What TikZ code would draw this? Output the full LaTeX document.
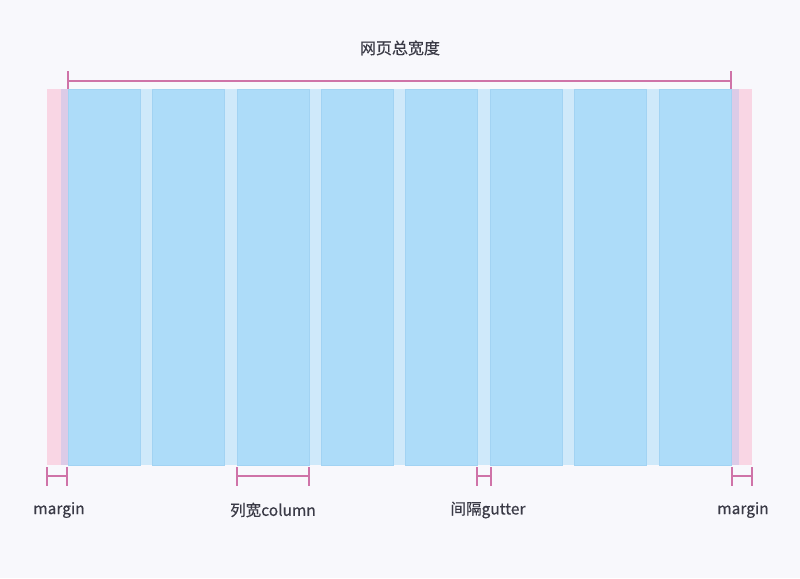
\documentclass[tikz,border=0pt]{standalone}
\usepackage{fontspec}
\setmainfont{Noto Sans CJK SC}
\newfontfamily\mfont[FakeBold=0.5]{Noto Sans CJK SC}
\definecolor{bgc}{HTML}{F8F8FC}
\definecolor{pinkm}{HTML}{F9D6E4}
\definecolor{overl}{HTML}{DCCBE7}
\definecolor{colb}{HTML}{ADDCF9}
\definecolor{colbd}{HTML}{A2D3F3}
\definecolor{gutb}{HTML}{CFE9FA}
\definecolor{dimc}{HTML}{CF73A8}
\definecolor{txtc}{HTML}{3A3A46}
\tikzset{
  colbox/.style={fill=colb, draw=colbd, line width=0.5pt},
  dimline/.style={draw=dimc, line width=1.3pt},
  lbl/.style={text=txtc, font=\mfont\fontsize{15.5}{18}\selectfont, inner sep=0pt, anchor=center},
}
\begin{document}
\begin{tikzpicture}[x=1pt,y=-1pt]
\useasboundingbox (0,0) rectangle (800,578);
\fill[bgc] (0,0) rectangle (800,578);
% margins
\fill[pinkm] (47,89) rectangle (61,465);
\fill[overl] (61,89) rectangle (68,465);
\fill[overl] (731,89) rectangle (739,465);
\fill[pinkm] (739,89) rectangle (752,465);
% gutter background
\fill[gutb] (68,89) rectangle (731,465);
% columns
\foreach \i in {0,...,7} {
  \pgfmathsetmacro{\xa}{68+\i*84.43}
  \pgfmathsetmacro{\xb}{\xa+72}
  \draw[colbox] (\xa,89) rectangle (\xb,465);
}
% title
\node[lbl, font=\mfont\fontsize{16}{18}\selectfont] (title) at (400,48) {网页总宽度};
% top dimension
\coordinate (tl) at (68,81);
\coordinate (tr) at (731,81);
\coordinate (tla) at (68,71);
\coordinate (tlb) at (68,89);
\coordinate (tra) at (731,71);
\coordinate (trb) at (731,89);
\draw[dimline] (tl) -- (tr);
\draw[dimline] (tla) -- (tlb);
\draw[dimline] (tra) -- (trb);
% bottom markers
\foreach \n/\a/\b in {m1/47/67, cw/237/309, gt/477/491, m2/732/752} {
  \coordinate (\n l) at (\a,476);
  \coordinate (\n r) at (\b,476);
  \coordinate (\n la) at (\a,467);
  \coordinate (\n lb) at (\a,486);
  \coordinate (\n ra) at (\b,467);
  \coordinate (\n rb) at (\b,486);
  \draw[dimline] (\n l) -- (\n r);
  \draw[dimline] (\n la) -- (\n lb);
  \draw[dimline] (\n ra) -- (\n rb);
}
% labels
\node[lbl] (lm1) at (59,510) {margin};
\node[lbl] (lcw) at (273,510) {列宽column};
\node[lbl] (lgt) at (488,510) {间隔gutter};
\node[lbl] (lm2) at (743,510) {margin};
\end{tikzpicture}
\end{document}
